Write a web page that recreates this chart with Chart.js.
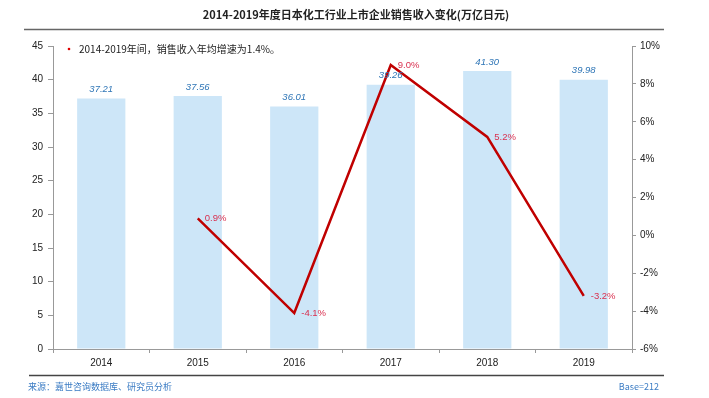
<!DOCTYPE html>
<html>
<head>
<meta charset="utf-8">
<script src="https://cdn.jsdelivr.net/npm/chart.js@4/dist/chart.umd.min.js"></script>
<style>
  html, body { margin: 0; padding: 0; background: #fff; }
  #wrap { position: relative; width: 709px; height: 398px; }
</style>
</head>
<body>
<div id="wrap"><canvas id="salesChart" width="709" height="398"></canvas></div>
<script>
const years = ['2014', '2015', '2016', '2017', '2018', '2019'];
const sales = [37.21, 37.56, 36.01, 39.26, 41.30, 39.98];
const growth = [null, 0.9, -4.1, 9.0, 5.2, -3.2];
const leftTicks = [0, 5, 10, 15, 20, 25, 30, 35, 40, 45];
const rightTicks = [-6, -4, -2, 0, 2, 4, 6, 8, 10];

const FONT = '"Liberation Sans", "Noto Sans CJK SC", sans-serif';
const CJK = '"Noto Sans CJK SC", "Liberation Sans", sans-serif';

// title, note, footer and value labels
const extras = {
  id: 'extras',
  afterDatasetsDraw(chart) {
    const ctx = chart.ctx;
    ctx.save();

    // title + rule
    ctx.fillStyle = '#222';
    ctx.font = 'bold 11px ' + CJK;
    ctx.textAlign = 'center';
    ctx.textBaseline = 'middle';
    ctx.fillText('2014-2019年度日本化工行业上市企业销售收入变化(万亿日元)', 356, 15);
    ctx.strokeStyle = '#666';
    ctx.lineWidth = 1.5;
    ctx.beginPath();
    ctx.moveTo(24, 29.5);
    ctx.lineTo(664, 29.5);
    ctx.stroke();

    // note
    ctx.fillStyle = '#e00000';
    ctx.beginPath();
    ctx.arc(69, 49, 1.3, 0, Math.PI * 2);
    ctx.fill();
    ctx.fillStyle = '#222';
    ctx.font = '10px ' + CJK;
    ctx.textAlign = 'left';
    ctx.fillText('2014-2019年间，销售收入年均增速为1.4%。', 79, 49);

    // bar labels
    const bars = chart.getDatasetMeta(0).data;
    ctx.fillStyle = '#2e75b6';
    ctx.font = 'italic 9.5px ' + FONT;
    ctx.textAlign = 'center';
    bars.forEach((b, i) => {
      ctx.fillText(sales[i].toFixed(2), b.x, b.y - 9);
    });

    // line labels
    const pts = chart.getDatasetMeta(1).data;
    ctx.fillStyle = '#d9304f';
    ctx.textAlign = 'left';
    ctx.font = '9.5px ' + FONT;
    pts.forEach((p, i) => {
      if (growth[i] === null) return;
      ctx.fillText(growth[i].toFixed(1) + '%', p.x + 7, p.y);
    });

    // footer
    ctx.strokeStyle = '#444';
    ctx.lineWidth = 1.5;
    ctx.beginPath();
    ctx.moveTo(29, 375.5);
    ctx.lineTo(664, 375.5);
    ctx.stroke();
    ctx.fillStyle = '#3b7cc4';
    ctx.font = '9px ' + CJK;
    ctx.textAlign = 'left';
    ctx.fillText('来源：嘉世咨询数据库、研究员分析', 28, 387);
    ctx.textAlign = 'right';
    ctx.fillText('Base=212', 659, 387);

    ctx.restore();
  }
};

new Chart(document.getElementById('salesChart'), {
  type: 'bar',
  data: {
    labels: years,
    datasets: [{
      type: 'bar',
      data: sales,
      yAxisID: 'y',
      backgroundColor: '#cde6f8',
      barPercentage: 0.5,
      categoryPercentage: 1,
      order: 2
    }, {
      type: 'line',
      data: growth,
      yAxisID: 'y1',
      borderColor: '#c00000',
      borderWidth: 2.5,
      pointRadius: 0,
      tension: 0,
      spanGaps: false,
      order: 1
    }]
  },
  plugins: [extras],
  options: {
    responsive: false,
    animation: false,
    layout: { padding: { top: 46, left: 0, right: 0, bottom: 0 } },
    plugins: {
      legend: { display: false },
      tooltip: { enabled: false }
    },
    scales: {
      x: {
        grid: {
          display: true,
          drawOnChartArea: false,
          offset: true,
          color: '#999',
          tickLength: 4
        },
        border: { color: '#999' },
        ticks: { color: '#222', font: { size: 10, family: FONT }, padding: 4 },
        afterFit(scale) { scale.height = 49; }
      },
      y: {
        position: 'left',
        min: 0,
        max: 45,
        afterBuildTicks(scale) { scale.ticks = leftTicks.map(v => ({ value: v })); },
        grid: { drawOnChartArea: false, color: '#999', tickLength: 5 },
        border: { color: '#999' },
        ticks: { color: '#222', font: { size: 10, family: FONT }, padding: 5 },
        afterFit(scale) { scale.width = 53; }
      },
      y1: {
        position: 'right',
        min: -6,
        max: 10,
        afterBuildTicks(scale) { scale.ticks = rightTicks.map(v => ({ value: v })); },
        grid: { drawOnChartArea: false, color: '#999', tickLength: 4 },
        border: { color: '#999' },
        ticks: {
          color: '#222',
          font: { size: 10, family: FONT },
          padding: 4,
          callback: v => v + '%'
        },
        afterFit(scale) { scale.width = 77; }
      }
    }
  }
});
</script>
</body>
</html>
